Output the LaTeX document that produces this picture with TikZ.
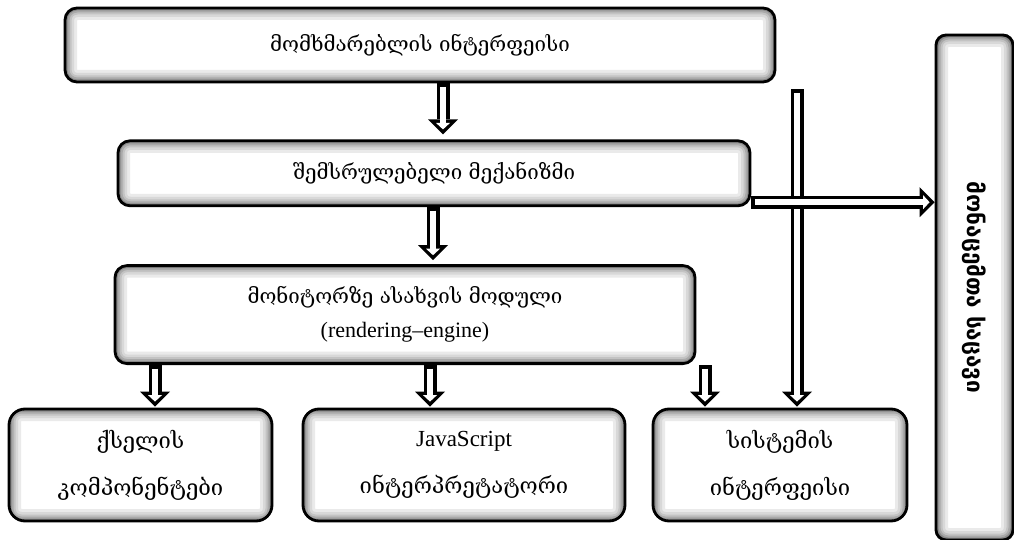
\documentclass[tikz,border=0pt]{standalone}
\usepackage{fontspec}
\usepackage{tikz}
\setmainfont{Liberation Serif}
\newfontfamily\geo{DejaVu Serif}
\newfontfamily\geosans{DejaVu Sans}
\definecolor{edgeblack}{RGB}{0, 0, 0}
\definecolor{glowgray}{RGB}{40, 40, 40}
\usetikzlibrary{arrows.meta, positioning, calc}

\begin{document}
\begin{tikzpicture}[
    x=1pt, y=-1pt,
    box/.style={rectangle, draw=edgeblack, fill=white, line width=2.8pt,
                rounded corners=12pt, align=center, inner sep=0pt,
                font=\geo\fontsize{20.5}{34}\selectfont,
                path picture={
                  \foreach \w/\c in {24/10,18/18,13/28,9/40,5/55,2/70}
                    \draw[line width=\w pt, glowgray!\c, rounded corners=12pt]
                      (path picture bounding box.south west) rectangle
                      (path picture bounding box.north east);
                }},
    leaf/.style={box, rounded corners=16pt, minimum height=112pt,
                 font=\geo\fontsize{22}{47}\selectfont},
    flow/.style={line width=13pt, draw=edgeblack,
                 -{Triangle[length=15pt, width=30pt, line width=0pt]},
                 postaction={draw=white, line width=5.5pt, shorten <=3.5pt, shorten >=5pt,
                             -{Triangle[length=6.5pt, width=14pt, line width=0pt]}}}
]
    \useasboundingbox (0,0) rectangle (1014,540);

    \node[box, minimum width=710pt, minimum height=74pt] (user) at (420,45)
        {მომხმარებლის ინტერფეისი};
    \node[box, minimum width=632pt, minimum height=65pt,
          below=56pt of user, xshift=14pt] (engine)
        {შემსრულებელი მექანიზმი};
    \node[box, minimum width=580pt, minimum height=98pt,
          below=57pt of engine, xshift=-29pt] (render)
        {მონიტორზე ასახვის მოდული\\{\rmfamily\fontsize{22}{34}\selectfont (rendering–engine)}};

    \node[leaf, minimum width=263pt] (canvas) at (140.5,465)
        {ქსელის\\კომპონენტები};
    \node[leaf, minimum width=322pt] (js) at (464,465)
        {{\rmfamily\fontsize{23}{47}\selectfont JavaScript}\\ინტერპრეტატორი};
    \node[leaf, minimum width=254pt] (sys) at (780,465)
        {სისტემის\\ინტერფეისი};

    \node[box, rounded corners=10pt, minimum width=77pt, minimum height=505pt]
        (store) at (974.5,287.5)
        {\rotatebox{-90}{\geosans\bfseries\fontsize{22.5}{24}\selectfont მონაცემთა საცავი}};

    \draw[flow] ([xshift=23pt]user.south) -- ([xshift=9pt,yshift=5pt]engine.north);
    \draw[flow] ([xshift=-1pt]engine.south) -- ([xshift=28pt,yshift=4pt]render.north);
    \draw[flow] ([xshift=-250pt]render.south) -- ([xshift=14.5pt,yshift=1pt]canvas.north);
    \draw[flow] ([xshift=25pt]render.south) -- ([xshift=-34pt,yshift=1pt]js.north);
    \draw[flow] ([xshift=300pt]render.south) -- ([xshift=-75pt,yshift=1pt]sys.north);
    \draw[flow] ([xshift=377pt,yshift=-6pt]user.south) -- ([xshift=17pt,yshift=1pt]sys.north);
    \draw[flow] ([yshift=5pt]engine.south east) -- ([yshift=5pt]engine.south east -| store.west);
\end{tikzpicture}
\end{document}
